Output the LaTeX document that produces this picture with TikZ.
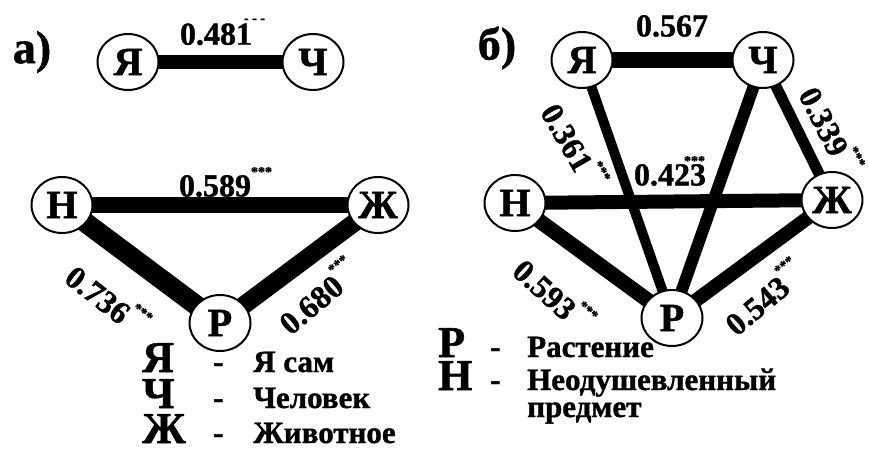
\documentclass[tikz,border=0pt]{standalone}
\usepackage{fontspec}
\setmainfont{Liberation Serif}
\newfontfamily\heavy{Liberation Serif}[UprightFont=* Bold, FakeBold=1.2]
\usepackage{tikz}
\usetikzlibrary{shapes.geometric, positioning, backgrounds}

% significance marks after a coefficient
\newcommand{\st}[1][0pt]{\rlap{\kern#1\raisebox{20pt}{\fontsize{14}{14}\selectfont ***}}}
\newcommand{\dashes}{\rlap{\kern-8pt\raisebox{22pt}{\fontsize{14}{14}\selectfont - - -}}}

\begin{document}
\begin{tikzpicture}[
    x=1pt, y=-1pt,
    vertex/.style={ellipse, draw, line width=2pt, fill=white, inner sep=0pt, minimum width=61pt, minimum height=56pt, font=\fontsize{40}{40}\selectfont\heavy},
    link/.style={line width=#1},
    link/.default=12pt,
    coef/.style={inner sep=0pt, font=\fontsize{32}{32}\selectfont\heavy},
    panel/.style={inner sep=0pt, font=\fontsize{46}{46}\selectfont\heavy},
    key/.style={anchor=base west, inner sep=0pt, font=\fontsize{44}{44}\selectfont\heavy},
    word/.style={anchor=base west, inner sep=0pt, font=\fontsize{31}{31}\selectfont\heavy}
]
    \useasboundingbox (0,0) rectangle (869,452);

    % Panel a
    \node[panel] (pa) at (32,52) {а)};
    \node[vertex] (ya) at (128,62) {Я};
    \node[vertex] (cha) at (313,62) {Ч};
    \node[vertex] (na) at (62,205) {Н};
    \node[vertex] (zha) at (378,205) {Ж};
    \node[vertex] (ra) at (220,323) {Р};

    \begin{scope}[on background layer]
        \draw[link=13pt] (ya.center) -- (cha.center);
        \draw[link=16pt] (na.center) -- (zha.center);
        \draw[link=20pt] (na.center) -- (ra.center);
        \draw[link=18pt] (ra.center) -- (zha.center);
    \end{scope}

    \node[coef] (ka1) at (216,32) {0.481\dashes};
    \node[coef] (ka2) at (215,182) {0.589\st};
    \node[coef, rotate=-38] (ka3) at (100,292) {0.736\st};
    \node[coef, rotate=40] (ka4) at (309,302) {0.680\st};

    % Panel b
    \node[panel] (pb) at (497,48) {б)};
    \node[vertex] (yb) at (582,60) {Я};
    \node[vertex] (chb) at (763,60) {Ч};
    \node[vertex] (nb) at (515,203) {Н};
    \node[vertex] (zhb) at (832,200) {Ж};
    \node[vertex] (rb) at (672,318) {Р};

    \begin{scope}[on background layer]
        \draw[link=15pt] (yb.center) -- (chb.center);
        \draw[link=10pt] (yb.center) -- (rb.center);
        \draw[link=12pt] (chb.center) -- (rb.center);
        \draw[link=11pt] (chb.center) -- (zhb.center);
        \draw[link=14pt] (nb.center) -- (zhb.center);
        \draw[link=15pt] (nb.center) -- (rb.center);
        \draw[link=14pt] (rb.center) -- (zhb.center);
    \end{scope}

    \node[coef] (kb1) at (672,26) {0.567};
    \node[coef] (kb2) at (670,171) {0.423\st[-22pt]};
    \node[coef, rotate=-60] (kb3) at (570,136) {0.361\st};
    \node[coef, rotate=-63] (kb4) at (827,120) {0.339\st};
    \node[coef, rotate=-42] (kb5) at (547,287) {0.593\st};
    \node[coef, rotate=40] (kb6) at (755,303) {0.543\st};

    % Legend a
    \node[key] (la1) at (142,372) {Я};
    \node[word] (da1) at (213,372) {-};
    \node[word] (wa1) at (253,372) {Я сам};
    \node[key] (la2) at (142,408) {Ч};
    \node[word] (da2) at (213,408) {-};
    \node[word] (wa2) at (253,408) {Человек};
    \node[key] (la3) at (142,443) {Ж};
    \node[word] (da3) at (213,443) {-};
    \node[word] (wa3) at (253,443) {Животное};

    % Legend b
    \node[key] (lb1) at (438,357) {Р};
    \node[word] (db1) at (490,357) {-};
    \node[word] (wb1) at (527,357) {Растение};
    \node[key] (lb2) at (438,390) {Н};
    \node[word] (db2) at (490,390) {-};
    \node[word] (wb2) at (527,390) {Неодушевленный};
    \node[word] (wb3) at (527,417) {предмет};
\end{tikzpicture}
\end{document}
